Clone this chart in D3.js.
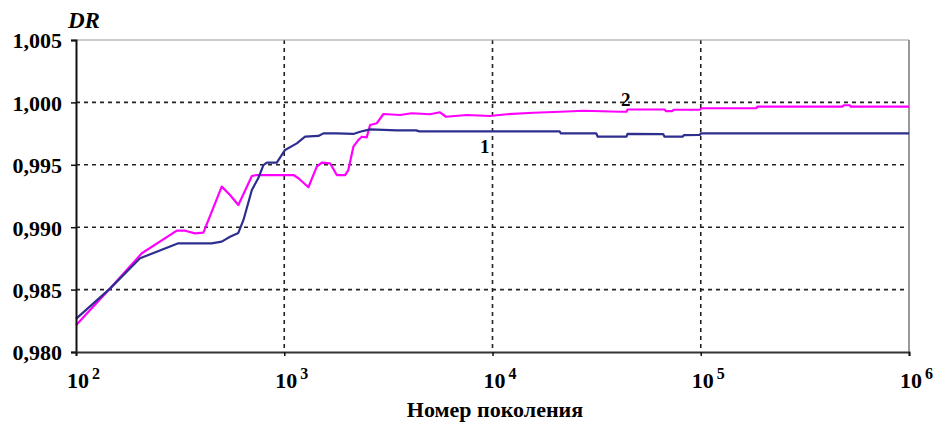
<!DOCTYPE html>
<html>
<head>
<meta charset="utf-8">
<script src="https://cdn.jsdelivr.net/npm/d3@7"></script>
<style>
  html, body { margin: 0; padding: 0; background: #fff; }
  svg { display: block; }
  text { font-family: "Liberation Serif", "Times New Roman", serif; }
</style>
</head>
<body>
<svg id="chart" width="938" height="430"></svg>
<script>
// ---- data ----
const xTicks = [100, 1000, 10000, 100000, 1000000];
const xTickExponents = ["2", "3", "4", "5", "6"];
const yTicks = [0.980, 0.985, 0.990, 0.995, 1.000, 1.005];

const series1Gen = [100, 146, 203, 310, 448, 501, 549, 602, 637, 699, 751, 794, 825, 921, 1009, 1149, 1259, 1459, 1542, 1788, 2148, 2313, 2583, 3469, 4300, 4450, 21000, 21300, 31500, 32000, 44000, 44500, 66000, 67000, 82000, 83000, 99000, 100000, 1000000];
const series1DR  = [0.98265, 0.98510, 0.98751, 0.98871, 0.98871, 0.98884, 0.98924, 0.98954, 0.99058, 0.99298, 0.99394, 0.99498, 0.99517, 0.99517, 0.99619, 0.99672, 0.99725, 0.99731, 0.99752, 0.99752, 0.99747, 0.99765, 0.99784, 0.99776, 0.99776, 0.99768, 0.99768, 0.99752, 0.99752, 0.99725, 0.99725, 0.99748, 0.99746, 0.99725, 0.99725, 0.99738, 0.99740, 0.99752, 0.99752];

const series2Gen = [100, 146, 207, 305, 334, 373, 409, 501, 549, 602, 699, 738, 1107, 1170, 1306, 1433, 1514, 1660, 1788, 1959, 2031, 2148, 2270, 2356, 2489, 2583, 2782, 2995, 3598, 4096, 5012, 5598, 5980, 7530, 9730, 11710, 15720, 21150, 27350, 41020, 44000, 44500, 67000, 68000, 73000, 74000, 99000, 101000, 185000, 187000, 480000, 485000, 520000, 525000, 1000000];
const series2DR  = [0.98215, 0.98510, 0.98791, 0.98972, 0.98972, 0.98951, 0.98956, 0.99325, 0.99258, 0.99178, 0.99410, 0.99418, 0.99418, 0.99392, 0.99320, 0.99485, 0.99517, 0.99512, 0.99418, 0.99418, 0.99458, 0.99645, 0.99699, 0.99725, 0.99720, 0.99819, 0.99833, 0.99907, 0.99899, 0.99913, 0.99905, 0.99921, 0.99885, 0.99899, 0.99891, 0.99905, 0.99917, 0.99925, 0.99933, 0.99925, 0.99925, 0.99943, 0.99943, 0.99930, 0.99930, 0.99941, 0.99941, 0.99953, 0.99953, 0.99966, 0.99966, 0.99977, 0.99977, 0.99966, 0.99966];

const seriesLabels = ["1", "2"];
const yTitle = "DR";
const xTitle = "Номер поколения";

// ---- chart ----
(function () {
const svg = d3.select("#chart");
const mLeft = 76, mRight = 909, mTop = 40, mBottom = 352;

const x = d3.scaleLog().domain([100, 1000000]).range([mLeft, mRight]);
const y = d3.scaleLinear().domain([0.980, 1.005]).range([mBottom, mTop]);

svg.append("rect").attr("width", 938).attr("height", 430).attr("fill", "#fff");

// grid
const grid = svg.append("g");
grid.selectAll("line.h").data(yTicks.filter(v => v > 0.9801 && v < 1.004))
  .join("line").attr("class", "h")
  .attr("x1", mLeft).attr("x2", mRight)
  .attr("y1", d => y(d)).attr("y2", d => y(d))
  .attr("stroke", "#222").attr("stroke-width", 1.6).attr("stroke-dasharray", "4,4");
grid.selectAll("line.v").data(xTicks.slice(1, -1))
  .join("line").attr("class", "v")
  .attr("x1", d => x(d)).attr("x2", d => x(d))
  .attr("y1", mTop).attr("y2", mBottom)
  .attr("stroke", "#222").attr("stroke-width", 1.6).attr("stroke-dasharray", "4,4");

// frame top/right
svg.append("line").attr("x1", mLeft).attr("x2", mRight).attr("y1", mTop).attr("y2", mTop)
  .attr("stroke", "#999").attr("stroke-width", 1.2);
svg.append("line").attr("x1", mRight).attr("x2", mRight).attr("y1", mTop).attr("y2", mBottom)
  .attr("stroke", "#999").attr("stroke-width", 2);

// lines
const line = d3.line().x(d => x(d[0])).y(d => y(d[1]));
const s1 = series1Gen.map((g, i) => [g, series1DR[i]]);
const s2 = series2Gen.map((g, i) => [g, series2DR[i]]);

svg.append("path").datum(s2).attr("d", line).attr("fill", "none")
  .attr("stroke", "#ff00ff").attr("stroke-width", 2.2).attr("stroke-linejoin", "round");
svg.append("path").datum(s1).attr("d", line).attr("fill", "none")
  .attr("stroke", "#2e2e8f").attr("stroke-width", 2.2).attr("stroke-linejoin", "round");

// y axis
const yAxis = svg.append("g").attr("transform", `translate(${mLeft},0)`)
  .call(d3.axisLeft(y).tickValues(yTicks).tickSize(5).tickPadding(9)
    .tickFormat(d => d3.format(".3f")(d).replace(".", ",")));
yAxis.select(".domain").attr("stroke", "#111").attr("stroke-width", 2);
yAxis.selectAll(".tick line").attr("stroke", "#111").attr("stroke-width", 1.5);
yAxis.selectAll(".tick text").attr("font-family", "Liberation Serif, serif")
  .attr("font-size", 22).attr("font-weight", "bold").attr("fill", "#000").attr("dy", "0.36em");

// x axis
const xAxis = svg.append("g").attr("transform", `translate(0,${mBottom})`)
  .call(d3.axisBottom(x).tickValues(xTicks).tickSize(4).tickFormat(() => ""));
xAxis.select(".domain").attr("stroke", "#333").attr("stroke-width", 2);
xAxis.selectAll(".tick line").attr("stroke", "#111").attr("stroke-width", 1.5);

const xl = svg.append("g");
xTicks.forEach((t, i) => {
  const tx = xl.append("text")
    .attr("x", x(t) - 9).attr("y", 388)
    .attr("font-size", 22).attr("font-weight", "bold").attr("fill", "#000");
  tx.append("tspan").text("10");
  tx.append("tspan").attr("dx", 3).attr("dy", -9).attr("font-size", 16).text(xTickExponents[i]);
});

// titles
svg.append("text").attr("x", 68).attr("y", 28)
  .attr("font-size", 23).attr("font-weight", "bold").attr("font-style", "italic").attr("fill", "#000")
  .text(yTitle);
svg.append("text").attr("x", 495).attr("y", 417).attr("text-anchor", "middle")
  .attr("font-size", 22).attr("font-weight", "bold").attr("fill", "#000")
  .text(xTitle);

// series labels
svg.append("text").attr("x", 480).attr("y", 153)
  .attr("font-size", 19).attr("font-weight", "bold").attr("fill", "#000").text(seriesLabels[0]);
svg.append("text").attr("x", 621).attr("y", 106)
  .attr("font-size", 19).attr("font-weight", "bold").attr("fill", "#000").text(seriesLabels[1]);
})();
</script>
</body>
</html>
